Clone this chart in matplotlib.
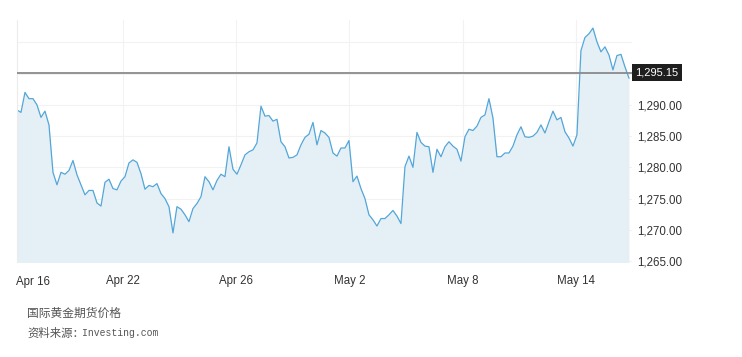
import numpy as np
import matplotlib.pyplot as plt

# gold futures price (x in trading days from Apr 16)
price = [
    1289.2, 1288.8, 1292.0, 1291.0, 1291.0, 1290.0, 1288.0, 1289.0, 1286.8, 1279.2,
    1277.2, 1279.2, 1278.9, 1279.5, 1281.1, 1278.8, 1277.2, 1275.6, 1276.3, 1276.3,
    1274.3, 1273.8, 1277.6, 1278.1, 1276.6, 1276.4, 1277.8, 1278.5, 1280.7, 1281.2,
    1280.8, 1279.0, 1276.5, 1277.1, 1276.9, 1277.4, 1275.8, 1275.0, 1273.7, 1269.5,
    1273.7, 1273.3, 1272.4, 1271.3, 1273.4, 1274.2, 1275.3, 1278.5, 1277.7, 1276.4,
    1277.9, 1278.9, 1278.5, 1283.3, 1279.7, 1278.9, 1280.4, 1282.0, 1282.5, 1282.8,
    1283.9, 1289.8, 1288.2, 1288.3, 1287.4, 1287.7, 1284.1, 1283.3, 1281.5, 1281.6,
    1282.0, 1283.6, 1284.8, 1285.3, 1287.2, 1283.6, 1285.9, 1285.5, 1284.8, 1282.3,
    1281.8, 1283.1, 1283.1, 1284.3, 1277.7, 1278.6, 1276.6, 1275.0, 1272.4, 1271.6,
    1270.6, 1271.8, 1271.8, 1272.4, 1273.1, 1272.2, 1271.0, 1280.1, 1281.8, 1280.0,
    1285.6, 1284.0, 1283.4, 1283.3, 1279.2, 1282.9, 1281.7, 1283.3, 1284.1, 1283.4,
    1282.9, 1281.0, 1284.9, 1286.1, 1285.9, 1286.6, 1288.0, 1288.4, 1291.0, 1287.9,
    1281.7, 1281.7, 1282.3, 1282.3, 1283.4, 1285.2, 1286.5, 1284.9, 1284.8, 1285.0,
    1285.6, 1286.8, 1285.5, 1287.3, 1289.0, 1287.6, 1288.0, 1285.7, 1284.7, 1283.4,
    1285.2, 1298.7, 1300.8, 1301.4, 1302.3, 1300.1, 1298.5, 1299.3, 1298.0, 1295.6,
    1297.9, 1298.1, 1296.1, 1294.3,
]
last_price = 1295.15

day_ticks = [4, 8, 12, 16, 20]
day_labels = ['Apr 22', 'Apr 26', 'May 2', 'May 8', 'May 14']
first_label = 'Apr 16'

y_ticks = [1265, 1270, 1275, 1280, 1285, 1290, 1295, 1300]
y_labels = ['1,265.00', '1,270.00', '1,275.00', '1,280.00', '1,285.00', '1,290.00', '', '']

title = '国际黄金期货价格'
source_cn = '资料来源：'
source_en = 'Investing.com'

x = np.linspace(0.268, 21.87, len(price))

fig = plt.figure(figsize=(7.42, 3.57), dpi=100)
ax = fig.add_axes([16.5 / 742, 95 / 357, 615 / 742, 242 / 357])

ax.fill_between(x, price, 1260, color='#e5eff6', lw=0)
ax.plot(x, price, color='#52a6d8', lw=0.9)
ax.axhline(last_price, color='#8a8a8a', lw=1.3, zorder=3)

ax.set_xlim(0.251, 21.96)
ax.set_ylim(1264.84, 1303.6)

ax.set_xticks(day_ticks)
ax.set_xticklabels(day_labels)
ax.set_yticks(y_ticks)
ax.set_yticklabels(y_labels)
ax.yaxis.tick_right()
ax.tick_params(axis='both', length=0, labelsize=8.3, labelcolor='#333333',
               labelfontfamily='Liberation Sans')
ax.tick_params(axis='x', pad=9.5)
ax.tick_params(axis='y', pad=4)
ax.grid(True, color='#f2f2f2', lw=0.8)
ax.set_axisbelow(True)

for s in ['top', 'right', 'bottom']:
    ax.spines[s].set_visible(False)
ax.spines['left'].set_color('#ececec')

ax.text(0.0, -0.056, first_label, transform=ax.transAxes, ha='left', va='top',
        fontsize=8.3, color='#333333', family='Liberation Sans')

ax.text(1.006, last_price, '1,295.15', transform=ax.get_yaxis_transform(),
        ha='left', va='center', fontsize=8, color='white', family='Liberation Sans',
        bbox=dict(boxstyle='square,pad=0.3', fc='#1e1e1e', ec='none'))

fig.text(27 / 742, 1 - 313 / 357, title, ha='left', va='center', fontsize=8.5,
         color='#555555', family=['Noto Sans CJK SC', 'DejaVu Sans'])
fig.text(27 / 742, 1 - 333 / 357, source_cn, ha='left', va='center', fontsize=8.2,
         color='#555555', family=['Noto Sans CJK SC', 'DejaVu Sans'])
fig.text(82 / 742, 1 - 333 / 357, source_en, ha='left', va='center', fontsize=7,
         color='#555555', family='Liberation Mono')

fig.savefig('out.png', dpi=100, facecolor='white')
